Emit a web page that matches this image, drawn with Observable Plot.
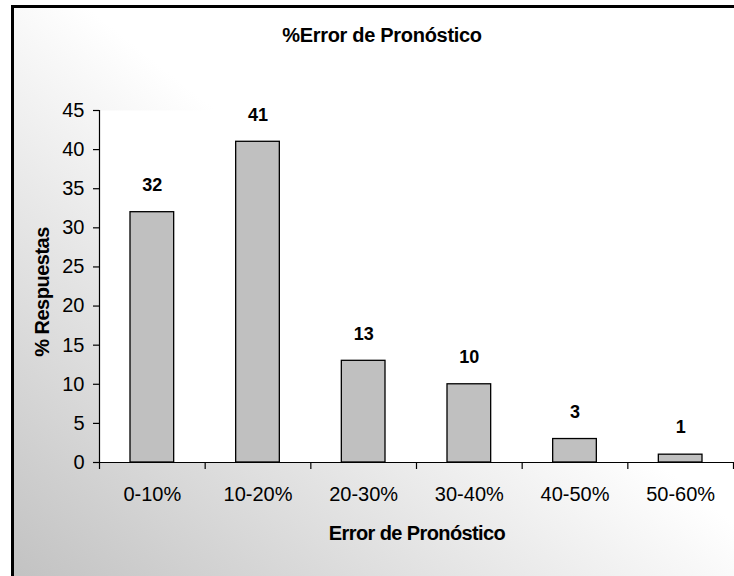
<!DOCTYPE html>
<html>
<head>
<meta charset="utf-8">
<script src="https://cdn.jsdelivr.net/npm/d3@7"></script>
<script src="https://cdn.jsdelivr.net/npm/@observablehq/plot@0.6"></script>
<style>
  html, body { margin: 0; padding: 0; background: #fff; }
  #wrap { position: relative; width: 734px; height: 576px; overflow: hidden; font-family: "Liberation Sans", Arial, sans-serif; color: #000; }
  #bg { position: absolute; left: 11px; top: 5px; width: 740px; height: 590px; border-left: 3px solid #000; border-top: 3px solid #000;
        background: linear-gradient(to top right, #c0c0c0 0%, #ffffff 55%); }
  #chart { position: absolute; left: 0; top: 0; }
  .t { position: absolute; font-weight: bold; font-size: 20px; line-height: 24px; text-align: center; white-space: nowrap; }
  #title { left: 0; width: 764px; top: 23px; letter-spacing: -0.3px; }
  #xtitle { left: 0; width: 834px; top: 521px; letter-spacing: -0.6px; }
  #ytitle { left: -108px; width: 300px; top: 280px; transform: rotate(-90deg); letter-spacing: -0.5px; }
</style>
</head>
<body>
<div id="wrap">
  <div id="bg"></div>
  <div id="chart"></div>
  <div class="t" id="title">%Error de Pronóstico</div>
  <div class="t" id="xtitle">Error de Pronóstico</div>
  <div class="t" id="ytitle">% Respuestas</div>
</div>
<script>
const categories = ["0-10%", "10-20%", "20-30%", "30-40%", "40-50%", "50-60%"];
const values = [32, 41, 13, 10, 3, 1];
const yTicks = [0, 5, 10, 15, 20, 25, 30, 35, 40, 45];

const data = categories.map((c, i) => ({cat: c, i, value: values[i]}));
const boundaries = d3.range(0, categories.length + 1);
const centers = categories.map((c, i) => i + 0.5);

const chart = Plot.plot({
  width: 734,
  height: 576,
  marginLeft: 99,
  marginRight: 1,
  marginTop: 110,
  marginBottom: 114,
  style: {background: "transparent", fontFamily: "'Liberation Sans', Arial, sans-serif", color: "#000", overflow: "visible"},
  x: {domain: [0, categories.length], axis: null},
  y: {domain: [0, 45], axis: null},
  marks: [
    Plot.frame({fill: "white", stroke: null}),
    Plot.rectY(data, {x1: "i", x2: d => d.i + 1, y: "value", fill: "#c0c0c0", stroke: "#000", strokeWidth: 1.3, insetLeft: 31, insetRight: 31}),
    Plot.axisY({ticks: yTicks, tickSize: 6, tickPadding: 9, label: null, fontSize: 20, stroke: "#000", strokeWidth: 1.2, style: {letterSpacing: "-0.6px"}}),
    Plot.ruleX([0], {stroke: "#000", strokeWidth: 1.2}),
    Plot.ruleY([0], {stroke: "#000", strokeWidth: 1.2}),
    Plot.axisX({ticks: boundaries, tickSize: 7, tickFormat: () => "", label: null, stroke: "#000", strokeWidth: 1.2}),
    Plot.axisX({ticks: centers, tickSize: 0, tickPadding: 24, tickFormat: v => categories[Math.floor(v)], label: null, fontSize: 20, style: {letterSpacing: "-0.7px"}}),
    Plot.text(data, {x: d => d.i + 0.5, y: "value", text: d => String(d.value), dy: -27, fontWeight: "bold", fontSize: 18, fill: "#000"})
  ]
});
document.getElementById("chart").appendChild(chart);
</script>
</body>
</html>
